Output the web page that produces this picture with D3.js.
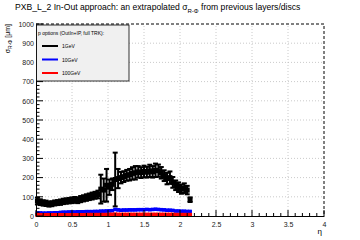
<!DOCTYPE html>
<html>
<head>
<meta charset="utf-8">
<script src="https://cdn.jsdelivr.net/npm/d3@7"></script>
<style>
body { margin: 0; background: #fff; }
text { font-family: "Liberation Sans", Arial, sans-serif; }
</style>
</head>
<body>
<svg width="360" height="240"></svg>
<script>
// eta bin centres (bin width 0.04)
var etaBins = d3.range(54).map(function (i) { return +(0.02 + i * 0.04).toFixed(2); });

var sig1GeV = [78, 72, 68, 66, 62, 64, 68, 70, 72, 76, 78, 80, 82, 84, 82, 88, 92, 96, 100, 104, 108, 112,
  140, 135, 160, 150, 165, 190, 195, 200, 205, 212, 215, 222, 225, 230, 226, 232, 228, 235, 230, 238, 236,
  225, 210, 195, 200, 175, 160, 150, 140, 145, 135, 85];
var err1GeV = [18, 15, 14, 14, 13, 13, 13, 13, 14, 14, 14, 14, 15, 15, 15, 16, 16, 17, 17, 18, 18, 20,
  75, 60, 85, 40, 30, 140, 50, 30, 28, 28, 30, 32, 35, 30, 28, 30, 28, 32, 30, 35, 32,
  30, 28, 30, 32, 28, 25, 25, 24, 25, 22, 12];

var sig10GeV = [16, 16, 15, 15, 16, 16, 17, 17, 19, 20, 20, 21, 21, 21, 22, 22, 22, 23, 23, 23, 24, 24,
  25, 25, 26, 27, 28, 34, 32, 30, 31, 31, 32, 32, 32, 33, 33, 33, 34, 33, 34, 35, 34,
  33, 32, 30, 30, 29, 26, 26, 25, 25, 24, 24];
var err10GeV = [7, 7, 7, 7, 7, 7, 7, 7, 7, 7, 7, 7, 7, 7, 7, 7, 7, 7, 7, 7, 7, 7,
  8, 8, 8, 8, 8, 8, 8, 8, 8, 8, 8, 8, 8, 8, 8, 8, 8, 8, 8, 8, 8,
  8, 8, 8, 8, 8, 7, 7, 7, 7, 7, 7];

var sig100GeV = [5, 5, 5, 5, 5, 5, 5, 5, 5, 5, 5, 5, 5, 5, 5, 5, 5, 6, 6, 6, 6, 6,
  6, 6, 6, 7, 7, 8, 7, 7, 7, 7, 7, 7, 7, 7, 7, 7, 7, 7, 7, 7, 7,
  7, 7, 7, 7, 7, 6, 6, 6, 6, 6, 6];
var err100GeV = 9;

var legendNames = ["1GeV", "10GeV", "100GeV"];
var colors = ["#000000", "#0000ff", "#ff0000"];

var svg = d3.select("svg");
var margin = { top: 24, right: 36, bottom: 24, left: 36 };
var W = 360, H = 240;
var x = d3.scaleLinear().domain([0, 4]).range([margin.left, W - margin.right]);
var y = d3.scaleLinear().domain([0, 1000]).range([H - margin.bottom, margin.top]);

svg.append("rect").attr("width", W).attr("height", H).attr("fill", "#fff");

// grid
var grid = svg.append("g").attr("stroke", "#bdbdbd").attr("stroke-width", 0.8).attr("stroke-dasharray", "1,2");
grid.selectAll(".gx").data(d3.range(0.5, 4, 0.5)).enter().append("line")
  .attr("x1", d => x(d)).attr("x2", d => x(d)).attr("y1", y(0)).attr("y2", y(1000));
grid.selectAll(".gy").data(d3.range(100, 1000, 100)).enter().append("line")
  .attr("x1", x(0)).attr("x2", x(4)).attr("y1", d => y(d)).attr("y2", d => y(d));

// dashed frame top/right
svg.append("path").attr("d", `M${x(0)},${y(1000)}H${x(4)}V${y(0)}`)
  .attr("fill", "none").attr("stroke", "#000").attr("stroke-width", 1).attr("stroke-dasharray", "3,2");

// series
function drawSeries(vals, errs, color, msize, ew, caps) {
  var g = svg.append("g");
  etaBins.forEach(function (eta, i) {
    var v = vals[i], e = Array.isArray(errs) ? errs[i] : errs;
    g.append("line").attr("x1", x(eta)).attr("x2", x(eta))
      .attr("y1", y(v - e)).attr("y2", y(v + e)).attr("stroke", color).attr("stroke-width", ew);
    if (caps) {
      g.append("line").attr("x1", x(eta) - 2.5).attr("x2", x(eta) + 2.5)
        .attr("y1", y(v + e)).attr("y2", y(v + e)).attr("stroke", color).attr("stroke-width", 2);
      g.append("line").attr("x1", x(eta) - 2.5).attr("x2", x(eta) + 2.5)
        .attr("y1", y(v - e)).attr("y2", y(v - e)).attr("stroke", color).attr("stroke-width", 2);
    }
    g.append("rect").attr("x", x(eta) - msize / 2).attr("y", y(v) - msize / 2)
      .attr("width", msize).attr("height", msize).attr("fill", color);
  });
}
drawSeries(sig1GeV, err1GeV, colors[0], 5, 2, true);
drawSeries(sig10GeV, err10GeV, colors[1], 3.5, 3.5, false);
drawSeries(sig100GeV, err100GeV, colors[2], 4, 3.5, false);

// axes
var xAxis = d3.axisBottom(x).tickValues(d3.range(0, 4.01, 0.5)).tickSize(0).tickPadding(6)
  .tickFormat(d3.format("~g"));
var xg = svg.append("g").attr("transform", `translate(0,${y(0)})`).call(xAxis);
xg.select(".domain").attr("stroke", "#000");
xg.selectAll("text").attr("font-size", 7).attr("fill", "#222").attr("font-family", "Liberation Sans, Arial, sans-serif");
svg.append("g").selectAll("line").data(d3.range(0, 41).map(d => d / 10)).enter().append("line")
  .attr("x1", d => x(d)).attr("x2", d => x(d)).attr("y1", y(0))
  .attr("y2", (d, i) => y(0) - (i % 5 === 0 ? 6 : 3)).attr("stroke", "#000");

var yAxis = d3.axisLeft(y).tickValues(d3.range(0, 1001, 100)).tickSize(0).tickPadding(2)
  .tickFormat(d3.format("d"));
var yg = svg.append("g").attr("transform", `translate(${x(0)},0)`).call(yAxis);
yg.select(".domain").attr("stroke", "#000");
yg.selectAll("text").attr("font-size", 7).attr("fill", "#222").attr("font-family", "Liberation Sans, Arial, sans-serif");
svg.append("g").selectAll("line").data(d3.range(0, 51).map(d => d * 20)).enter().append("line")
  .attr("x1", x(0)).attr("x2", (d, i) => x(0) + (i % 5 === 0 ? 7 : 3.5))
  .attr("y1", d => y(d)).attr("y2", d => y(d)).attr("stroke", "#000");

// title
var title = svg.append("text").attr("x", 15).attr("y", 10).attr("font-size", 8.6).attr("fill", "#000");
title.append("tspan").text("PXB_L_2 In-Out approach: an extrapolated \u03c3");
title.append("tspan").attr("font-size", 6).attr("dy", 2.5).text("R-\u03a6");
title.append("tspan").attr("dy", -2.5).text(" from previous layers/discs");

// axis titles
var yt = svg.append("text").attr("transform", `translate(10,${margin.top}) rotate(-90)`)
  .attr("text-anchor", "end").attr("font-size", 7).attr("fill", "#000");
yt.append("tspan").text("\u03c3");
yt.append("tspan").attr("font-size", 5).attr("dy", 2).text("R-\u03a6");
yt.append("tspan").attr("dy", -2).text(" [\u03bcm]");
svg.append("text").attr("x", x(4) - 2).attr("y", 234).attr("text-anchor", "end")
  .attr("font-size", 8).attr("fill", "#000").text("\u03b7");

// legend
var lg = svg.append("g");
lg.append("rect").attr("x", 36.5).attr("y", 25).attr("width", 92.5).attr("height", 56)
  .attr("fill", "#f0f0f0").attr("stroke", "#000").attr("stroke-width", 0.8);
lg.append("text").attr("x", 38).attr("y", 35).attr("font-size", 5).attr("fill", "#000")
  .text("p options (OutIn+IP, full TRK):");
legendNames.forEach(function (n, i) {
  var ly = 46 + i * 13.5;
  lg.append("line").attr("x1", 42).attr("x2", 58).attr("y1", ly).attr("y2", ly)
    .attr("stroke", colors[i]).attr("stroke-width", 2);
  lg.append("text").attr("x", 62).attr("y", ly + 2).attr("font-size", 5).attr("fill", "#000").text(n);
});
</script>
</body>
</html>
